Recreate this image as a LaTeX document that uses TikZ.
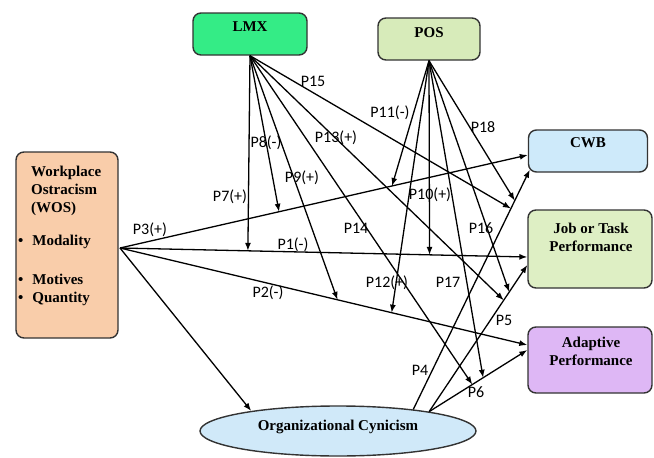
\documentclass[tikz,border=0pt]{standalone}
\usepackage{fontspec}
\setmainfont{Liberation Serif}
\newfontfamily\labelfont{Carlito}
\usepackage{tikz}
\usetikzlibrary{arrows.meta, calc, positioning, shapes.geometric}
\definecolor{wosfill}{RGB}{249,205,170}
\definecolor{lmxfill}{RGB}{52,236,134}
\definecolor{posfill}{RGB}{215,235,186}
\definecolor{cwbfill}{RGB}{206,234,250}
\definecolor{jtpfill}{RGB}{222,239,196}
\definecolor{apfill}{RGB}{222,183,245}
\definecolor{ocfill}{RGB}{208,233,249}
\tikzset{%
	edge/.style={%
		->,
		>={Latex[length=8pt,width=6pt]},
		line width=1.3pt,
	},
	factor/.style={%
		rectangle,
		draw=black!80, line width=1.4pt,
		rounded corners=8pt,
		inner sep=0pt,
	},
	boxtext/.style={%
		font=\fontsize{15}{18}\selectfont\bfseries,
		align=center,
		inner sep=0pt,
	},
	plabel/.style={%
		font=\labelfont\fontsize{16}{18}\selectfont,
		inner sep=0pt,
	},
}
\begin{document}
\begin{tikzpicture}[x=1pt, y=-1pt]
	\useasboundingbox (0,0) rectangle (654,458);

	% boxes
	\node [factor, fill=wosfill, minimum width=102, minimum height=186] at (67,245) (wos) {};
	\node [factor, fill=lmxfill, minimum width=114, minimum height=42] at (250,34) (lmx) {};
	\node [factor, fill=posfill, minimum width=102, minimum height=42] at (429,39) (pos) {};
	\node [factor, fill=cwbfill, minimum width=119, minimum height=42] at (588,151) (cwb) {};
	\node [factor, fill=jtpfill, minimum width=124, minimum height=78] at (590,249) (jtp) {};
	\node [factor, fill=apfill, minimum width=124, minimum height=66] at (590,360) (ap) {};
	\node [ellipse, draw=black!80, line width=1.4pt, fill=ocfill, minimum width=276, minimum height=50, inner sep=0pt] at (338,431) (oc) {};

	\node [boxtext, align=left, anchor=north west] at (18,166) (wos_txt) {%
		\hspace*{13pt}Workplace\\\hspace*{13pt}Ostracism\\\hspace*{13pt}(WOS)\\[15pt]
		\textbullet\hspace{9pt}Modality\\[21pt]
		\textbullet\hspace{9pt}Motives\\
		\textbullet\hspace{9pt}Quantity};
	\node [boxtext] at (250,27) (lmx_txt) {LMX};
	\node [boxtext] at (429,33) (pos_txt) {POS};
	\node [boxtext] at (588,143) (cwb_txt) {CWB};
	\node [boxtext] at (591,237) (jtp_txt) {Job or Task\\Performance};
	\node [boxtext] at (591,351) (ap_txt) {Adaptive\\Performance};
	\node [boxtext] at (338,427) (oc_txt) {Organizational Cynicism};

	% line ends
	\coordinate (wos_out) at (120,248);
	\coordinate (p3_end) at ($(cwb.west) + (0,4)$);
	\coordinate (p4_end) at ($(cwb.south west) + (2,-3)$);
	\coordinate (p1_end) at ($(jtp.west) + (0,8)$);
	\coordinate (p5_end) at ($(jtp.west) + (0,16)$);
	\coordinate (p2_end) at ($(ap.west) + (0,-15)$);
	\coordinate (p6_end) at ($(ap.west) + (0,-10)$);

	\draw[edge] (wos_out) -- (p3_end);
	\draw[edge] (wos_out) -- (p1_end);
	\draw[edge] (wos_out) -- (p2_end);
	\draw[edge] (wos_out) -- (oc.167);
	\draw[edge] (oc.16) -- (p4_end);
	\draw[edge] (oc.12) -- (p5_end);
	\draw[edge] (oc.12) -- (p6_end);

	% moderator arrows
	\draw[edge] (lmx.south) -- ($(wos_out)!0.314!(p1_end)$);
	\draw[edge] (lmx.south) -- ($(wos_out)!0.39!(p3_end)$);
	\draw[edge] (lmx.south) -- ($(wos_out)!0.534!(p2_end)$);
	\draw[edge] (lmx.south) -- ($(oc.12)!0.76!(p5_end)$);
	\draw[edge] (lmx.south) -- ($(oc.12)!0.44!(p6_end)$);
	\draw[edge] (lmx.south) -- ($(oc.16)!0.838!(p4_end)$);

	\draw[edge] (pos.south) -- ($(wos_out)!0.667!(p3_end)$);
	\draw[edge] (pos.south) -- ($(wos_out)!0.76!(p1_end)$);
	\draw[edge] (pos.south) -- ($(wos_out)!0.667!(p2_end)$);
	\draw[edge] (pos.south) -- ($(oc.12)!0.816!(p5_end)$);
	\draw[edge] (pos.south) -- ($(oc.12)!0.55!(p6_end)$);
	\draw[edge] (pos.south) -- ($(oc.16)!0.871!(p4_end)$);

	% labels
	\node [plabel] at (150,230) (l3) {P3(+)};
	\node [plabel] at (293,245) (l1) {P1(-)};
	\node [plabel] at (268,293) (l2) {P2(-)};
	\node [plabel] at (230,197) (l7) {P7(+)};
	\node [plabel] at (266,143) (l8) {P8(-)};
	\node [plabel] at (302,178) (l9) {P9(+)};
	\node [plabel] at (336,138) (l13) {P13(+)};
	\node [plabel] at (356,228) (l14) {P14};
	\node [plabel] at (313,81) (l15) {P15};
	\node [plabel] at (390,113) (l11) {P11(-)};
	\node [plabel] at (430,195) (l10) {P10(+)};
	\node [plabel] at (387,283) (l12) {P12(+)};
	\node [plabel] at (481,228) (l16) {P16};
	\node [plabel] at (448,282) (l17) {P17};
	\node [plabel] at (483,127) (l18) {P18};
	\node [plabel] at (420,370) (l4) {P4};
	\node [plabel] at (504,320) (l5) {P5};
	\node [plabel] at (476,392) (l6) {P6};
\end{tikzpicture}
\end{document}
